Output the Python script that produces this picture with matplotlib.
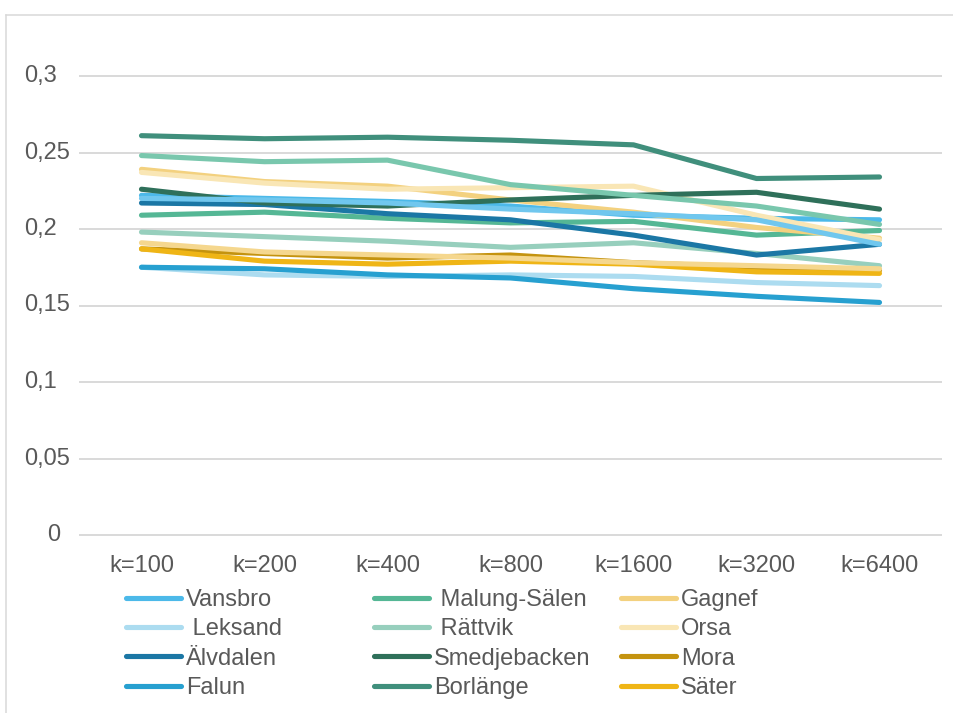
import matplotlib
matplotlib.use("Agg")
import matplotlib.pyplot as plt
from matplotlib.lines import Line2D
from matplotlib.transforms import blended_transform_factory

plt.rcParams["font.family"] = ["Liberation Sans", "DejaVu Sans"]

# Category labels (number of clusters k)
categories = ["k=100", "k=200", "k=400", "k=800", "k=1600", "k=3200", "k=6400"]

# Series values per municipality
vansbro      = [0.222, 0.220, 0.218, 0.215, 0.209, 0.207, 0.206]
malung_salen = [0.209, 0.211, 0.207, 0.204, 0.205, 0.196, 0.199]
gagnef       = [0.239, 0.231, 0.228, 0.219, 0.211, 0.201, 0.194]
leksand      = [0.175, 0.170, 0.169, 0.170, 0.169, 0.165, 0.163]
rattvik      = [0.198, 0.195, 0.192, 0.188, 0.191, 0.184, 0.176]
orsa         = [0.237, 0.230, 0.226, 0.227, 0.228, 0.209, 0.193]
alvdalen     = [0.217, 0.216, 0.210, 0.206, 0.196, 0.183, 0.190]
smedjebacken = [0.226, 0.217, 0.215, 0.219, 0.222, 0.224, 0.213]
mora         = [0.187, 0.184, 0.181, 0.183, 0.178, 0.175, 0.173]
falun        = [0.175, 0.174, 0.170, 0.168, 0.161, 0.156, 0.152]
borlange     = [0.261, 0.259, 0.260, 0.258, 0.255, 0.233, 0.234]
sater        = [0.187, 0.179, 0.177, 0.179, 0.177, 0.172, 0.171]
ludvika      = [0.220, 0.219, 0.217, 0.213, 0.210, 0.206, 0.190]
avesta       = [0.248, 0.244, 0.245, 0.229, 0.222, 0.215, 0.203]
hedemora     = [0.191, 0.185, 0.183, 0.181, 0.178, 0.176, 0.174]

# Y axis tick values and labels (decimal comma)
ytick_values = [0, 0.05, 0.1, 0.15, 0.2, 0.25, 0.3]
ytick_labels = ["0", "0,05", "0,1", "0,15", "0,2", "0,25", "0,3"]

series = [
    ("Vansbro", vansbro, "#4cb9e9", True),
    (" Malung-Sälen", malung_salen, "#55b795", True),
    ("Gagnef", gagnef, "#f3d17f", True),
    (" Leksand", leksand, "#acdcf0", True),
    (" Rättvik", rattvik, "#97cfbd", True),
    ("Orsa", orsa, "#f9e6b5", True),
    ("Älvdalen", alvdalen, "#1b77a5", True),
    ("Smedjebacken", smedjebacken, "#2f705a", True),
    ("Mora", mora, "#c4930f", True),
    ("Falun", falun, "#27a0d0", True),
    ("Borlänge", borlange, "#408f7c", True),
    ("Säter", sater, "#efb516", True),
    ("Ludvika", ludvika, "#70c7ee", False),
    ("Avesta", avesta, "#79c7ad", False),
    ("Hedemora", hedemora, "#f5d78e", False),
]

W, H = 954, 713
fig = plt.figure(figsize=(W / 100, H / 100), dpi=100)
fig.patch.set_facecolor("white")

# chart frame (top and left edges)
frame_y = (H - 14.5) / H
frame_x = 6 / W
fig.add_artist(Line2D([frame_x, 1.0], [frame_y, frame_y], transform=fig.transFigure,
                      color="#d9d9d9", linewidth=1.1))
fig.add_artist(Line2D([frame_x, frame_x], [0.0, frame_y], transform=fig.transFigure,
                      color="#d9d9d9", linewidth=1.1))

ax = fig.add_axes([80 / W, (H - 535) / H, 861 / W, 459 / H])
ax.set_facecolor("none")

x = list(range(len(categories)))
LW = 3.7
for name, vals, color, _ in series:
    ax.plot(x, vals, color=color, linewidth=LW, solid_capstyle="round",
            solid_joinstyle="round", zorder=3)

ax.set_xlim(-0.5, len(categories) - 0.5)
ax.set_ylim(0, 0.3)
for s in ax.spines.values():
    s.set_visible(False)

ax.set_yticks(ytick_values)
ax.set_yticklabels([])
ax.tick_params(axis="y", length=0)
ax.yaxis.grid(True, color="#d9d9d9", linewidth=1.4)
for gl in ax.get_ygridlines():
    gl.set_clip_on(False)
ax.set_axisbelow(True)

ax.set_xticks(x)
ax.set_xticklabels(categories, fontsize=17, color="#595959")
ax.tick_params(axis="x", length=0, pad=14.5)

# y tick labels
tr = blended_transform_factory(fig.transFigure, ax.transData)
for v, lab in zip(ytick_values, ytick_labels):
    xpos = 47 / W if len(lab) == 1 else 24 / W
    ax.text(xpos, v, lab, transform=tr, ha="left", va="center",
            fontsize=17, color="#595959")

# legend in three columns
legend_items = [(n, c) for n, _, c, show in series if show]
col_x = [126, 374, 621]
ncols = 3
for ci in range(ncols):
    items = legend_items[ci::ncols]
    handles = [Line2D([0], [0], color=c, linewidth=LW, solid_capstyle="round")
               for _, c in items]
    labels = [n for n, _ in items]
    leg = fig.legend(handles, labels, loc="upper left",
                     bbox_to_anchor=(col_x[ci] / W, (H - 589) / H),
                     frameon=False, fontsize=17, handlelength=2.35,
                     handletextpad=0.2, labelspacing=0.31, borderpad=0,
                     borderaxespad=0)
    for t in leg.get_texts():
        t.set_color("#595959")

fig.savefig("out.png", dpi=100)
